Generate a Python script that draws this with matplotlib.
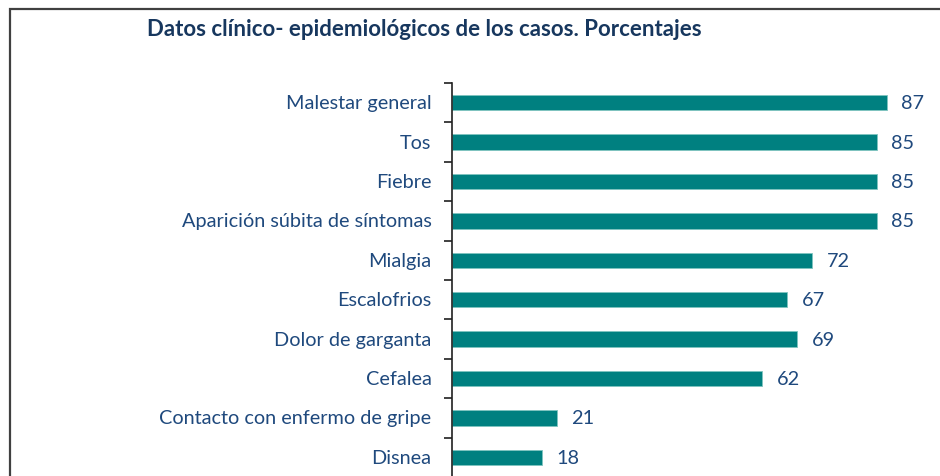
import matplotlib.pyplot as plt
from matplotlib.patches import Rectangle

# Data
categories = [
    "Malestar general",
    "Tos",
    "Fiebre",
    "Aparición súbita de síntomas",
    "Mialgia",
    "Escalofrios",
    "Dolor de garganta",
    "Cefalea",
    "Contacto con enfermo de gripe",
    "Disnea",
]
values = [87, 85, 85, 85, 72, 67, 69, 62, 21, 18]

title = "Datos clínico- epidemiológicos de los casos. Porcentajes"

BAR_COLOR = "#008080"
TEXT_COLOR = "#1F497D"
TITLE_COLOR = "#17375E"

plt.rcParams["font.family"] = ["Lato", "DejaVu Sans"]

W, H = 940, 477
fig = plt.figure(figsize=(W / 100, H / 100), dpi=100)

# outer chart border (cut at right and bottom like the reference)
fig.patches.append(Rectangle((9.5 / W, -0.1), 1.2, (H - 9.5) / H + 0.1,
                             transform=fig.transFigure, fill=False,
                             edgecolor="#404040", linewidth=1.6))

# plot area: x=0 at px 451.5, 5 px per unit; categories from y=84 to y=478
x0, y_top, y_bot = 451.5, 84, 478
ax = fig.add_axes([x0 / W, (H - y_bot) / H, 470 / W, (y_bot - y_top) / H])

pos = list(range(len(categories)))
ax.barh(pos, values, height=0.39, color=BAR_COLOR, edgecolor="#7fc4c0",
        linewidth=0.6)
ax.set_ylim(len(categories) - 0.5, -0.5)
ax.set_xlim(0, 94)

for p, v in zip(pos, values):
    ax.text(v + 3, p, str(v), va="center", ha="left", fontsize=14.3,
            color=TEXT_COLOR)

ax.set_yticks([p - 0.5 for p in pos] + [len(categories) - 0.5])
ax.set_yticklabels([])
ax.tick_params(axis="y", length=6, width=1.2, color="#202020", direction="out")
for p, lab in zip(pos, categories):
    ax.text(-4.0, p, lab, ha="right", va="center", fontsize=14.3,
            color=TEXT_COLOR)

ax.set_xticks([])
for side in ["top", "right", "bottom"]:
    ax.spines[side].set_visible(False)
ax.spines["left"].set_linewidth(1.2)
ax.spines["left"].set_color("#202020")

fig.text(147 / W, 1 - 30 / H, title, ha="left", va="center", fontsize=16,
         fontweight="bold", color=TITLE_COLOR)

fig.savefig("out.png", dpi=100)
